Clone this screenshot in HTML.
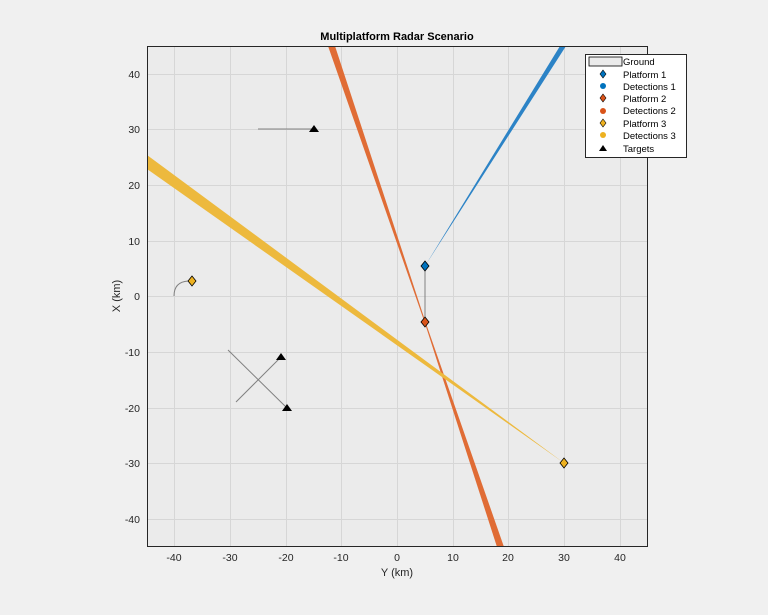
<!DOCTYPE html>
<html><head><meta charset="utf-8"><style>
body{margin:0;background:#fff;}
svg{display:block;font-family:"Liberation Sans",sans-serif;}
</style></head><body>
<svg width="768" height="615" viewBox="0 0 768 615">
<rect width="768" height="615" fill="#f0f0f0"/>
<rect x="147" y="46" width="501" height="501" fill="#ebebeb"/>
<g stroke="#d6d6d6" stroke-width="1">
<line x1="174.5" y1="46" x2="174.5" y2="547"/><line x1="230.5" y1="46" x2="230.5" y2="547"/><line x1="286.5" y1="46" x2="286.5" y2="547"/><line x1="341.5" y1="46" x2="341.5" y2="547"/><line x1="397.5" y1="46" x2="397.5" y2="547"/><line x1="453.5" y1="46" x2="453.5" y2="547"/><line x1="508.5" y1="46" x2="508.5" y2="547"/><line x1="564.5" y1="46" x2="564.5" y2="547"/><line x1="620.5" y1="46" x2="620.5" y2="547"/>
<line x1="147" y1="74.5" x2="648" y2="74.5"/><line x1="147" y1="129.5" x2="648" y2="129.5"/><line x1="147" y1="185.5" x2="648" y2="185.5"/><line x1="147" y1="241.5" x2="648" y2="241.5"/><line x1="147" y1="296.5" x2="648" y2="296.5"/><line x1="147" y1="352.5" x2="648" y2="352.5"/><line x1="147" y1="408.5" x2="648" y2="408.5"/><line x1="147" y1="463.5" x2="648" y2="463.5"/><line x1="147" y1="519.5" x2="648" y2="519.5"/>
</g>
<!-- detections -->
<polygon points="425,266 560,46 566,46" fill="#2c83c6"/>
<polygon points="328,46 335,46 425.5,322 424.5,322" fill="#e06c35"/>
<polygon points="424.5,322 425.5,322 504,547 497,547" fill="#e06c35"/>
<polygon points="147,155 147,169 564,463" fill="#edb93d"/>
<!-- trajectories -->
<g stroke="#808080" stroke-width="1" fill="none">
<line x1="425" y1="266" x2="425" y2="322"/>
<line x1="258" y1="129" x2="314" y2="129"/>
<path d="M174,296 Q174,282 188,281"/>
<line x1="236" y1="402" x2="281" y2="357"/>
<line x1="228" y1="350" x2="287" y2="408"/>
</g>
<!-- platforms -->
<polygon points="425,261 429,266 425,271 421,266" fill="#0072bd" stroke="#000" stroke-width="0.8"/>
<polygon points="425,317 429,322 425,327 421,322" fill="#d95319" stroke="#000" stroke-width="0.8"/>
<polygon points="564,458 568,463 564,468 560,463" fill="#edb120" stroke="#000" stroke-width="0.8"/>
<polygon points="192,276 196,281 192,286 188,281" fill="#edb120" stroke="#000" stroke-width="0.8"/>
<!-- targets -->
<g fill="#000"><polygon points="314,125 319,132 309,132"/><polygon points="281,353 286,360 276,360"/><polygon points="287,404 292,411 282,411"/></g>
<rect x="147.5" y="46.5" width="500" height="500" fill="none" stroke="#262626" stroke-width="1"/>
<g fill="#262626" font-size="10.5" text-anchor="middle">
<text x="174" y="561">-40</text><text x="230" y="561">-30</text><text x="286" y="561">-20</text><text x="341" y="561">-10</text><text x="397" y="561">0</text><text x="453" y="561">10</text><text x="508" y="561">20</text><text x="564" y="561">30</text><text x="620" y="561">40</text>
</g>
<g fill="#262626" font-size="10.5" text-anchor="end">
<text x="140" y="78">40</text><text x="140" y="133">30</text><text x="140" y="189">20</text><text x="140" y="245">10</text><text x="140" y="300">0</text><text x="140" y="356">-10</text><text x="140" y="412">-20</text><text x="140" y="467">-30</text><text x="140" y="523">-40</text>
</g>
<text x="397" y="576" font-size="11" fill="#262626" text-anchor="middle">Y (km)</text>
<text x="120" y="296" font-size="11" fill="#262626" text-anchor="middle" transform="rotate(-90 120 296)">X (km)</text>
<text x="397" y="40" font-size="11" font-weight="bold" fill="#000" text-anchor="middle">Multiplatform Radar Scenario</text>
<!-- legend -->
<rect x="585.5" y="54.5" width="101" height="103" fill="#fff" stroke="#262626"/>
<rect x="589" y="57" width="33" height="9" fill="#ebebeb" stroke="#000" stroke-width="0.8"/>
<g font-size="9.5" fill="#000">
<text x="623" y="65">Ground</text><text x="623" y="78">Platform 1</text><text x="623" y="90">Detections 1</text><text x="623" y="102">Platform 2</text><text x="623" y="114">Detections 2</text><text x="623" y="127">Platform 3</text><text x="623" y="139">Detections 3</text><text x="623" y="152">Targets</text>
</g>
<polygon points="603,70 606,74 603,78 600,74" fill="#0072bd" stroke="#000" stroke-width="0.6"/>
<circle cx="603" cy="86" r="3" fill="#0072bd"/>
<polygon points="603,94 606,98 603,102 600,98" fill="#d95319" stroke="#000" stroke-width="0.6"/>
<circle cx="603" cy="111" r="3" fill="#d95319"/>
<polygon points="603,119 606,123 603,127 600,123" fill="#edb120" stroke="#000" stroke-width="0.6"/>
<circle cx="603" cy="135" r="3" fill="#edb120"/>
<polygon points="603,145 607,151 599,151" fill="#000"/>
</svg>
</body></html>
